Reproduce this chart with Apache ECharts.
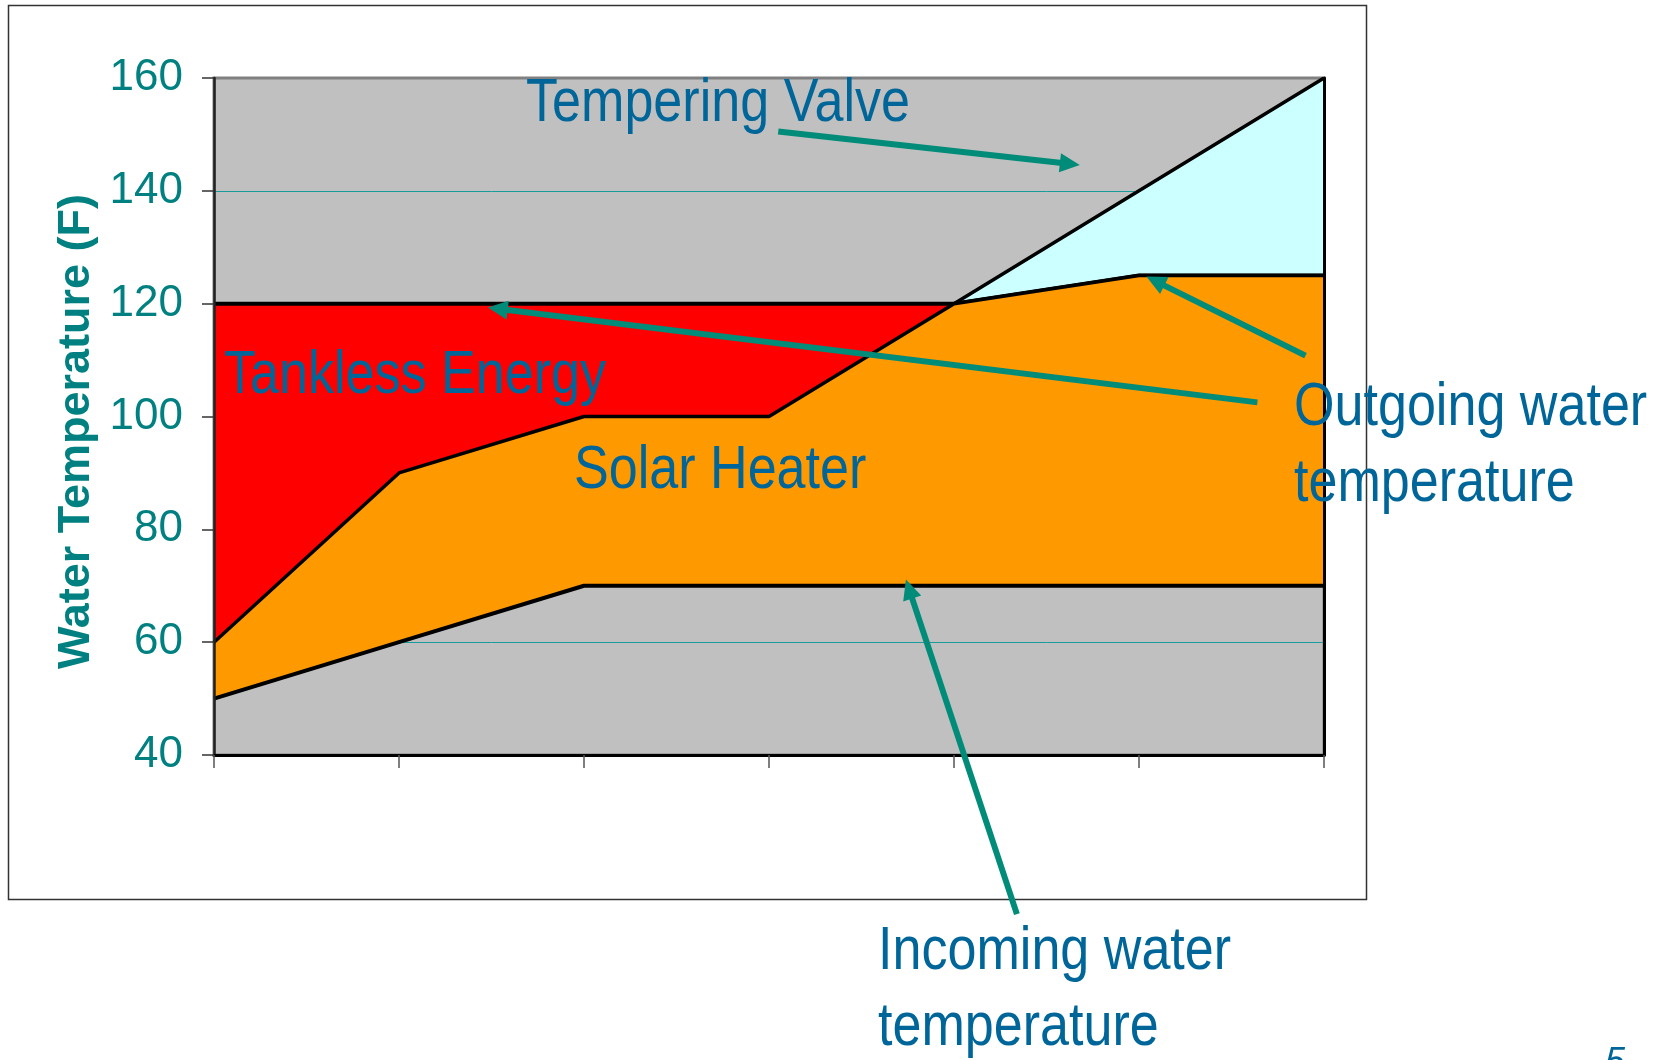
<!DOCTYPE html>
<html>
<head>
<meta charset="utf-8">
<script src="https://cdn.jsdelivr.net/npm/echarts@6/dist/echarts.min.js"></script>
<style>
  html, body { margin: 0; background: #fff; }
  #chart { width: 1657px; height: 1060px; }
</style>
</head>
<body>
<div id="chart"></div>
<script>
// x positions along the day (the axis carries no labels)
const steps = ['0', '1', '2', '3', '4', '5', '6'];
// boundary temperatures (F)
const incoming = [50, 60, 70, 70, 70, 70, 70];
const solarTop = [60, 90, 100, 100, 120, 125, 125];
const tanklessTop = [120, 120, 120, 120, 120, 125, 125];
const temperedTop = [120, 120, 120, 120, 120, 140, 160];
const yMin = 40, yMax = 160, yStep = 20;

const chart = echarts.init(document.getElementById('chart'));

// stacked layers = difference between two boundaries
function layer(top, below) {
  return top.map((v, i) => v - (below ? below[i] : 0));
}

const labelFont = "'Liberation Sans', Arial, sans-serif";
const gridTeal = '#1A9A9A';

const option = {
  backgroundColor: '#fff',
  animation: false,
  grid: {
    left: 214, top: 78, width: 1110, height: 677,
    show: true,
    backgroundColor: '#C0C0C0',
    borderColor: '#808080',
    borderWidth: 3
  },
  xAxis: {
    type: 'category', data: steps, boundaryGap: false, z: 10,
    axisLine: { lineStyle: { color: '#000', width: 3 } },
    axisTick: { length: 13, lineStyle: { color: '#555', width: 1.5 } },
    axisLabel: { show: false },
    splitLine: { show: false }
  },
  yAxis: [
    {
      type: 'value', min: yMin, max: yMax, interval: yStep, position: 'left', z: 10,
      name: 'Water Temperature (F)',
      nameLocation: 'middle', nameRotate: 90, nameGap: 114,
      nameTextStyle: {
        color: '#008080', fontSize: 45, fontWeight: 'bold',
        fontFamily: labelFont,
        padding: [0, 30, 0, 0]
      },
      axisLine: { show: true, lineStyle: { color: '#222', width: 2.5 } },
      axisTick: { show: true, length: 12, lineStyle: { color: '#333', width: 1.5 } },
      axisLabel: { color: '#008080', fontSize: 44, fontFamily: labelFont, margin: 31 },
      splitLine: { show: false }
    },
    {
      type: 'value', min: yMin, max: yMax, interval: yStep, position: 'left', z: 0,
      axisLine: { show: false }, axisTick: { show: false }, axisLabel: { show: false },
      splitLine: {
        show: true,
        // the top line is left to the grey plot border
        lineStyle: { color: [gridTeal, gridTeal, gridTeal, gridTeal, gridTeal, gridTeal, 'rgba(0,0,0,0)'], width: 1 }
      }
    },
    {
      type: 'value', min: yMin, max: yMax, interval: yStep, position: 'right', z: 10,
      axisLine: { show: true, lineStyle: { color: '#000', width: 3 } },
      axisTick: { show: false }, axisLabel: { show: false }, splitLine: { show: false }
    }
  ],
  series: [
    {
      name: 'Incoming water', type: 'line', stack: 't', z: 6,
      data: layer(incoming), showSymbol: false,
      lineStyle: { color: '#000', width: 4 }
    },
    {
      name: 'Solar Heater', type: 'line', stack: 't', z: 5,
      data: layer(solarTop, incoming), showSymbol: false,
      lineStyle: { color: '#000', width: 3.5 },
      areaStyle: { color: '#FF9900', opacity: 1 }
    },
    {
      name: 'Tankless Energy', type: 'line', stack: 't', z: 4,
      data: layer(tanklessTop, solarTop), showSymbol: false,
      lineStyle: { color: '#000', width: 4 },
      areaStyle: { color: '#FF0000', opacity: 1 }
    },
    {
      name: 'Tempering Valve', type: 'line', stack: 't', z: 3,
      data: layer(temperedTop, tanklessTop), showSymbol: false,
      lineStyle: { color: '#000', width: 3.5 },
      areaStyle: { color: '#CCFFFF', opacity: 1 }
    }
  ]
};

chart.setOption(option);

// annotation texts: left edge and baseline in page pixels
const notes = [
  { text: 'Tempering Valve', x: 526, y: 125 },
  { text: 'Tankless Energy', x: 224, y: 397 },
  { text: 'Solar Heater', x: 574, y: 492 },
  { text: 'Outgoing water', x: 1294, y: 429 },
  { text: 'temperature', x: 1294, y: 505 },
  { text: 'Incoming water', x: 878, y: 973 },
  { text: 'temperature', x: 878, y: 1049 }
];
// arrows in data space: [step (fractional), temperature]
const arrows = [
  { from: [3.05, 150.5], to: [4.68, 144.6] },
  { from: [5.64, 102.5], to: [1.48, 119.3] },
  { from: [5.90, 110.8], to: [5.04, 124.8] },
  { from: [4.34, 11.8], to: [3.74, 71.1] }
];

// fractional step -> pixel, via the axis positions of the first and last step
function toPixel(p) {
  const a = chart.convertToPixel({ seriesIndex: 0 }, [0, p[1]]);
  const b = chart.convertToPixel({ seriesIndex: 0 }, [steps.length - 1, p[1]]);
  return [a[0] + (b[0] - a[0]) * p[0] / (steps.length - 1), a[1]];
}

const textColor = '#006699';
const arrowColor = '#008C78';
const fs = 62;
const graphic = [
  {
    type: 'rect', z: 0, silent: true,
    shape: { x: 8.5, y: 5.5, width: 1358, height: 894 },
    style: { fill: 'none', stroke: '#333', lineWidth: 1.5 }
  }
];

notes.forEach(n => {
  graphic.push({
    type: 'text', z: 20, x: n.x, y: n.y - 0.347 * fs, scaleX: 0.84,
    style: {
      text: n.text, x: 0, y: 0, fill: textColor,
      font: fs + "px 'Liberation Sans', Arial, sans-serif",
      textAlign: 'left', textVerticalAlign: 'middle'
    }
  });
});

arrows.forEach(a => {
  const p0 = toPixel(a.from);
  const p1 = toPixel(a.to);
  const dx = p1[0] - p0[0], dy = p1[1] - p0[1];
  const len = Math.sqrt(dx * dx + dy * dy);
  const ux = dx / len, uy = dy / len;
  const head = 20, half = 9.5;
  const bx = p1[0] - ux * head, by = p1[1] - uy * head;
  graphic.push({
    type: 'line', z: 21,
    shape: { x1: p0[0], y1: p0[1], x2: bx + ux * 2, y2: by + uy * 2 },
    style: { stroke: arrowColor, lineWidth: 6 }
  });
  graphic.push({
    type: 'polygon', z: 21,
    shape: { points: [p1, [bx - uy * half, by + ux * half], [bx + uy * half, by - ux * half]] },
    style: { fill: arrowColor }
  });
});

// page number, mostly cut off at the bottom edge
graphic.push({
  type: 'text', z: 20, x: 1605, y: 1063,
  style: {
    text: '5', fill: textColor, font: "italic 36px 'Liberation Sans', Arial, sans-serif",
    textAlign: 'left', textVerticalAlign: 'middle'
  }
});

chart.setOption({ graphic: graphic });
</script>
</body>
</html>
